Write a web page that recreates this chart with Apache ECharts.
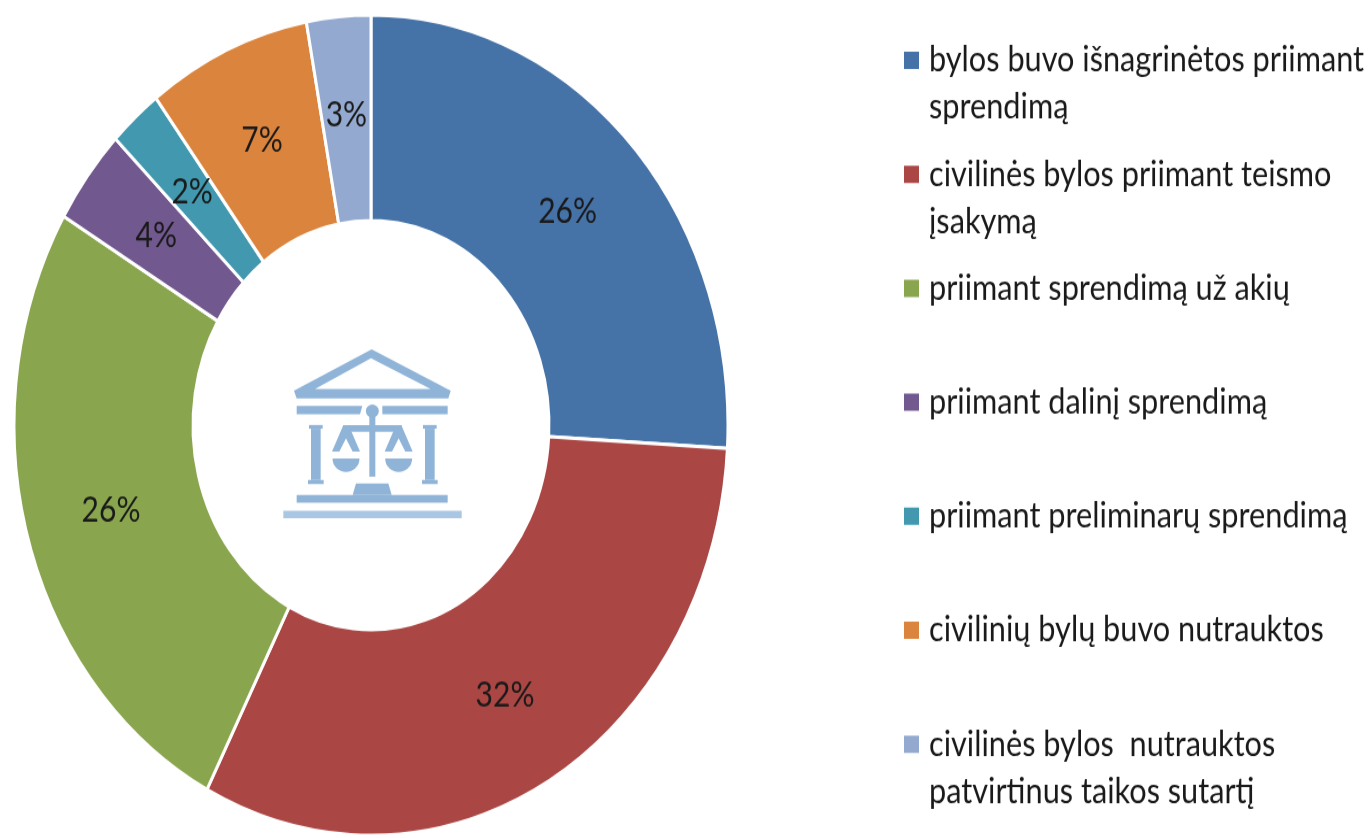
<!DOCTYPE html>
<html>
<head>
<meta charset="utf-8">
<title>Civilinės bylos</title>
<script src="https://cdn.jsdelivr.net/npm/echarts@6/dist/echarts.min.js"></script>
<style>
	html, body { margin: 0; padding: 0; background: #fff; width: 1368px; height: 838px; overflow: hidden; }
	/* the source picture is stretched vertically, the donut is an ellipse */
	#chart { width: 1368px; height: 729.4px; transform-origin: 0 0; transform: scaleY(1.149); }
</style>
</head>
<body>
<div id="chart"></div>
<script>
const categories = [
	'bylos buvo išnagrinėtos priimant\nsprendimą',
	'civilinės bylos priimant teismo\nįsakymą',
	'priimant sprendimą už akių',
	'priimant dalinį sprendimą',
	'priimant preliminarų sprendimą',
	'civilinių bylų buvo nutrauktos',
	'civilinės bylos  nutrauktos\npatvirtinus taikos sutartį'
];
const values = [25.9, 31.7, 25.9, 3.8, 2.4, 7.4, 2.9];
const colors = ['#4572a7', '#aa4643', '#89a54e', '#71588f', '#4198af', '#db843d', '#93a9cf'];

const stretch = 1.149;
const iconColor = '#8fb4d8';

// icon points are in zoomed px of the source, zx/zy bring them to page px
const zx = (x) => 270 + x / 3;
const zy = (y) => 330 + y / 3;
const poly = (points, fill) => ({
	type: 'polygon',
	shape: { points: points.map((p) => [zx(p[0]), zy(p[1])]) },
	style: { fill: fill || iconColor }
});
const box = (x1, y1, x2, y2, fill) => poly([[x1, y1], [x2, y1], [x2, y2], [x1, y2]], fill);
const pan = (cx) => ({
	type: 'sector',
	shape: { cx: zx(cx), cy: zy(385), r: 13.5, r0: 0, startAngle: 0, endAngle: Math.PI },
	style: { fill: iconColor }
});
const hanger = (cx) => [
	poly([[cx - 8, 285], [cx + 8, 285], [cx + 42, 365], [cx + 20, 365], [cx, 325], [cx - 20, 365], [cx - 42, 365]])
];
const column = (x1, x2) => [
	box(x1 - 3, 285, x2 + 3, 296),
	box(x1 + 3, 296, x2 - 3, 450),
	box(x1 - 6, 450, x2 + 6, 462)
];

const iconChildren = [
	poly([[72, 182], [305, 58], [542, 182], [535, 205], [80, 205]]),
	poly([[135, 177], [303, 85], [482, 177]], '#fff'),
	poly([[80, 228], [277, 228], [270, 253], [80, 253]]),
	poly([[337, 228], [533, 228], [533, 253], [337, 253]]),
	{ type: 'circle', shape: { cx: zx(307), cy: zy(243), r: 6.5 }, style: { fill: iconColor } },
	box(298, 243, 316, 440),
	box(220, 285, 395, 305),
	...hanger(228),
	...hanger(386),
	pan(228),
	pan(386),
	...column(120, 155),
	...column(462, 497),
	poly([[258, 460], [355, 460], [365, 495], [248, 495]]),
	box(80, 495, 533, 518),
	box(40, 542, 575, 565, '#a9c6e2')
];

const chart = echarts.init(document.getElementById('chart'));
chart.setOption({
	backgroundColor: '#fff',
	animation: false,
	color: colors,
	legend: {
		orient: 'vertical',
		left: 902,
		top: -9,
		padding: 0,
		itemWidth: 17,
		itemHeight: 17,
		itemGap: -23.8,
		icon: 'rect',
		selectedMode: false,
		// empty first line keeps the marker level with the first text line
		formatter: (name) => (name.indexOf('\n') >= 0 ? '\n' + name : '\n' + name + '\n'),
		textStyle: {
			fontFamily: 'Lato',
			fontSize: 30.7,
			lineHeight: 41,
			color: '#1a1a1a',
			padding: [0, 0, 0, 4]
		}
	},
	series: [{
		type: 'pie',
		center: [371, 370],
		radius: [178, 357],
		startAngle: 90,
		clockwise: true,
		silent: true,
		itemStyle: { borderColor: '#fff', borderWidth: 3 },
		label: {
			position: 'inside',
			fontFamily: 'Lato',
			fontSize: 30,
			color: '#1a1a1a',
			formatter: (p) => Math.round(p.value) + '%'
		},
		labelLine: { show: false },
		data: categories.map((name, i) => ({ name: name, value: values[i] }))
	}],
	graphic: [{
		type: 'group',
		scaleY: 1 / stretch,
		silent: true,
		children: iconChildren
	}]
});
</script>
</body>
</html>
